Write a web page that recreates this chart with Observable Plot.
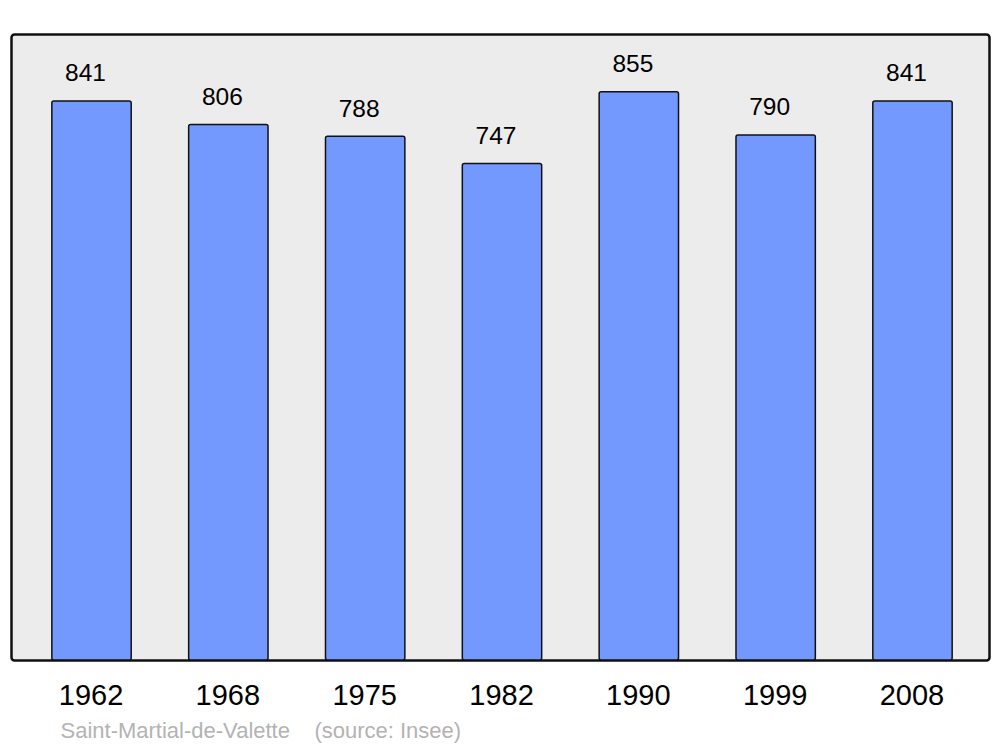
<!DOCTYPE html>
<html>
<head>
<meta charset="utf-8">
<script src="https://cdn.jsdelivr.net/npm/d3@7"></script>
<script src="https://cdn.jsdelivr.net/npm/@observablehq/plot@0.6"></script>
<style>
  html, body { margin: 0; padding: 0; background: white; }
  #chart svg { display: block; }
</style>
</head>
<body>
<div id="chart"></div>
<script>
const years = ["1962", "1968", "1975", "1982", "1990", "1999", "2008"];
const population = [841, 806, 788, 747, 855, 790, 841];
const captionText = "Saint-Martial-de-Valette\u00a0\u00a0\u00a0\u00a0(source: Insee)";

const data = years.map((year, i) => ({ year, pop: population[i] }));

const chart = Plot.plot({
  width: 1000,
  height: 747,
  marginLeft: 11,
  marginRight: 11,
  marginTop: 34,
  marginBottom: 87,
  style: { fontFamily: "'Liberation Sans', Arial, sans-serif", background: "white", color: "black" },
  x: { domain: years, range: [23.1, 980.9], paddingInner: 0.42, paddingOuter: 0.21, align: 0.5, round: false, label: null },
  y: { domain: [0, 942], axis: null },
  marks: [
    Plot.frame({ fill: "#ececec", stroke: "#111", strokeWidth: 2.5, rx: 3 }),
    Plot.barY(data, { x: "year", y: "pop", fill: "#7399ff", stroke: "#111", strokeWidth: 1.5, rx: 2 }),
    Plot.text(data, { x: "year", y: "pop", text: d => String(d.pop), dy: -28, dx: -6.5, fontSize: 24.5, fill: "black" }),
    Plot.axisX({ tickSize: 0, tickPadding: 24, fontSize: 29, label: null, dx: -1, fill: "black" }),
    Plot.text([captionText], { frameAnchor: "bottom-left", text: d => d, textAnchor: "start", lineAnchor: "middle", dx: 49, dy: 70, fontSize: 22, fill: "#b3b3b3" })
  ]
});

document.getElementById("chart").appendChild(chart);
</script>
</body>
</html>
